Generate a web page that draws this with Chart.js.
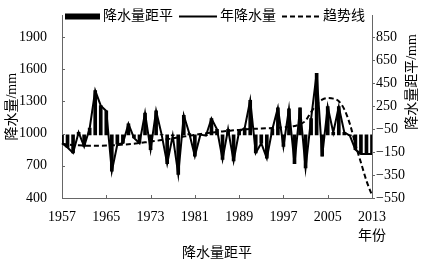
<!DOCTYPE html>
<html>
<head>
<meta charset="utf-8">
<script src="https://cdn.jsdelivr.net/npm/chart.js@4/dist/chart.umd.min.js"></script>
<style>
    body { margin: 0; background: #fff; }
    #contenedor { width: 425px; height: 267px; }
</style>
</head>
<body>
<div id="contenedor"><canvas id="grafico"></canvas></div>
<script>
const anios = [
    1957, 1958, 1959, 1960, 1961, 1962, 1963, 1964, 1965, 1966,
    1967, 1968, 1969, 1970, 1971, 1972, 1973, 1974, 1975, 1976,
    1977, 1978, 1979, 1980, 1981, 1982, 1983, 1984, 1985, 1986,
    1987, 1988, 1989, 1990, 1991, 1992, 1993, 1994, 1995, 1996,
    1997, 1998, 1999, 2000, 2001, 2002, 2003, 2004, 2005, 2006,
    2007, 2008, 2009, 2010, 2011, 2012, 2013
]

// 年降水量 (mm)
const precipitacion = [
    910, 870, 820, 1010, 880, 1050, 1400, 1260, 1210, 650,
    900, 910, 1090, 960, 910, 1190, 850, 1210, 990, 720,
    980, 620, 1170, 1000, 790, 990, 980, 1140, 1040, 760,
    1040, 745, 1020, 1050, 1310, 820, 910, 770, 1040, 1240,
    880, 1230, 720, 1240, 680, 1140, 1560, 790, 1250, 1010,
    1250, 1010, 980, 850, 810, 810, 810
]

// 降水量距平 (mm)
const anomalia = [
    -73, -110, -157, 21, -101, 58, 385, 254, 208, -316,
    -82, -73, 95, -26, -73, 189, -129, 208, 2, -251,
    -7, -344, 170, 11, -185, 2, -7, 142, 49, -213,
    49, -227, 30, 58, 301, -157, -73, -204, 49, 236,
    -101, 226, -251, 236, -288, 142, 535, -185, 245, 21,
    245, 21, -7, -129, -166, -166, -166
]

// 趋势线 (mm)
const tendencia = [
    905, 898, 893, 890, 888, 887, 887, 887, 888, 890,
    893, 897, 901, 906, 912, 918, 925, 932, 940, 948,
    956, 964, 972, 980, 988, 995, 1002, 1009, 1015, 1020,
    1025, 1030, 1034, 1038, 1042, 1045, 1047, 1049, 1051, 1054,
    1058, 1063, 1070, 1085, 1120, 1200, 1270, 1315, 1330, 1325,
    1300, 1225, 1090, 900, 730, 560, 425
]

const ticksIzq = [400, 700, 1000, 1300, 1600, 1900]
const ticksDer = [-550, -350, -150, 50, 250, 450, 650, 850]
const etiquetasDer = ['\u2212550', '\u2212350', '\u2212150', '\u221250', '250', '450', '650', '850']

const fuente = "'Liberation Serif', 'Noto Sans CJK SC', serif"
const colorEje = '#666'

// marcas hacia dentro, leyenda y textos extra
const extras = {
    id: 'extras',
    afterDraw(chart) {
        const ctx = chart.ctx
        const x = chart.scales.x
        const y = chart.scales.y
        const area = chart.chartArea
        ctx.save()
        ctx.strokeStyle = colorEje
        ctx.lineWidth = 1
        ctx.beginPath()
        for (let i = 0; i < anios.length; i += 8) {
            const px = Math.round(x.getPixelForValue(i)) + 0.5
            ctx.moveTo(px, area.bottom)
            ctx.lineTo(px, area.bottom - 3)
        }
        ticksIzq.forEach(function (v) {
            const py = Math.round(y.getPixelForValue(v)) + 0.5
            ctx.moveTo(area.left, py)
            ctx.lineTo(area.left + 3, py)
        })
        ctx.stroke()

        // leyenda dentro del área
        ctx.font = '14px ' + fuente
        ctx.textAlign = 'left'
        ctx.textBaseline = 'middle'
        ctx.fillStyle = '#000'
        ctx.strokeStyle = '#000'
        const yl = 16.5
        let xl = area.left + 3
        chart.data.datasets.forEach(function (ds, i) {
            if (i === 0) {
                ctx.fillRect(xl, yl - 3, 35, 6)
            } else {
                ctx.lineWidth = 2
                ctx.setLineDash(ds.borderDash || [])
                ctx.beginPath()
                ctx.moveTo(xl, yl)
                ctx.lineTo(xl + 38, yl)
                ctx.stroke()
                ctx.setLineDash([])
            }
            xl += (i === 0 ? 35 : 38) + 3
            ctx.fillText(ds.label, xl, yl)
            xl += ctx.measureText(ds.label).width + 6
        })

        ctx.textAlign = 'center'
        ctx.fillText('年份', 372, 236)

        ctx.translate(412, 82)
        ctx.rotate(-Math.PI / 2)
        ctx.fillText('降水量距平/mm', 0, 0)
        ctx.restore()
    }
}

new Chart(document.getElementById('grafico'), {
    type: 'bar',
    plugins: [extras],
    data: {
        labels: anios,
        datasets: [
            {
                label: '降水量距平',
                data: anomalia,
                yAxisID: 'y2',
                backgroundColor: '#000',
                borderWidth: 0,
                barThickness: 3,
                order: 3
            },
            {
                type: 'line',
                label: '年降水量',
                data: precipitacion,
                yAxisID: 'y',
                borderColor: '#000',
                borderWidth: 2,
                pointRadius: 0,
                tension: 0,
                order: 2
            },
            {
                type: 'line',
                label: '趋势线',
                data: tendencia,
                yAxisID: 'y',
                borderColor: '#000',
                borderWidth: 2,
                borderDash: [5, 3],
                pointRadius: 0,
                cubicInterpolationMode: 'monotone',
                order: 1
            }
        ]
    },
    options: {
        responsive: true,
        maintainAspectRatio: false,
        animation: false,
        layout: { padding: { top: 3 } },
        plugins: {
            tooltip: { enabled: false },
            legend: { display: false }
        },
        scales: {
            x: {
                type: 'category',
                offset: false,
                grid: { display: false },
                border: { display: true, color: colorEje, width: 1 },
                ticks: {
                    autoSkip: false,
                    maxRotation: 0,
                    padding: 3,
                    color: '#000',
                    font: { family: fuente, size: 14 },
                    callback: function (v, i) {
                        return i % 8 === 0 ? String(anios[i]) : null
                    }
                },
                title: {
                    display: true,
                    text: '降水量距平',
                    color: '#000',
                    padding: { top: 5, bottom: 5 },
                    font: { family: fuente, size: 14 }
                },
                afterFit: function (s) { s.height = 69 }
            },
            y: {
                position: 'left',
                min: 400,
                max: 2100,
                grid: { display: false },
                border: { display: true, color: colorEje, width: 1 },
                afterBuildTicks: function (s) {
                    s.ticks = ticksIzq.map(function (v) { return { value: v } })
                },
                ticks: {
                    padding: 7,
                    color: '#000',
                    font: { family: fuente, size: 14 },
                    callback: function (v) { return String(v) }
                },
                title: {
                    display: true,
                    text: '降水量/mm',
                    color: '#000',
                    padding: { top: 4, bottom: 4 },
                    font: { family: fuente, size: 14 }
                },
                afterFit: function (s) { s.width = 62 }
            },
            y2: {
                position: 'right',
                min: -550,
                max: 1040,
                grid: { display: true, drawOnChartArea: false, drawTicks: true, tickLength: 3, color: colorEje },
                border: { display: true, color: colorEje, width: 1 },
                afterBuildTicks: function (s) {
                    s.ticks = ticksDer.map(function (v) { return { value: v } })
                },
                ticks: {
                    padding: 1,
                    color: '#000',
                    font: { family: fuente, size: 14 },
                    callback: function (v) {
                        return etiquetasDer[ticksDer.indexOf(v)]
                    }
                },
                afterFit: function (s) { s.width = 53 }
            }
        }
    }
})
</script>
</body>
</html>
